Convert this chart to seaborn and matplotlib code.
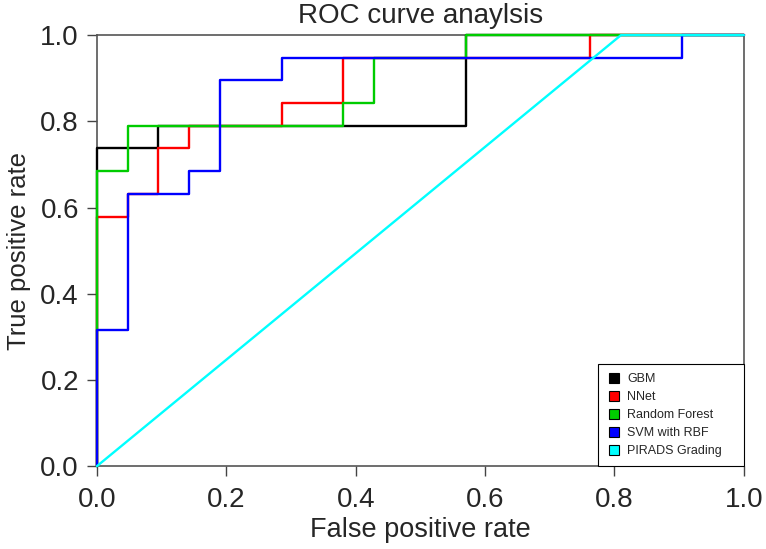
import numpy as np
import pandas as pd
import matplotlib
matplotlib.use("Agg")
import matplotlib.pyplot as plt
import seaborn as sns
from matplotlib.lines import Line2D

models = ["GBM", "NNet", "Random Forest", "SVM with RBF", "PIRADS Grading"]
colors = ["#000000", "#ff0000", "#00cc00", "#0000ff", "#00ffff"]

gbm_fpr = [0, 0, 0.095, 0.095, 0.571, 0.571, 1.0]
gbm_tpr = [0, 0.737, 0.737, 0.789, 0.789, 1.0, 1.0]

nnet_fpr = [0, 0, 0.048, 0.048, 0.095, 0.095, 0.143, 0.143, 0.286, 0.286, 0.381, 0.381, 0.762, 0.762, 1.0]
nnet_tpr = [0, 0.579, 0.579, 0.632, 0.632, 0.737, 0.737, 0.789, 0.789, 0.842, 0.842, 0.947, 0.947, 1.0, 1.0]

rf_fpr = [0, 0, 0.048, 0.048, 0.381, 0.381, 0.429, 0.429, 0.571, 0.571, 1.0]
rf_tpr = [0, 0.684, 0.684, 0.789, 0.789, 0.842, 0.842, 0.947, 0.947, 1.0, 1.0]

svm_fpr = [0, 0, 0.048, 0.048, 0.143, 0.143, 0.190, 0.190, 0.286, 0.286, 0.905, 0.905, 1.0]
svm_tpr = [0, 0.316, 0.316, 0.632, 0.632, 0.684, 0.684, 0.895, 0.895, 0.947, 0.947, 1.0, 1.0]

pirads_fpr = [0, 0.810, 1.0]
pirads_tpr = [0, 1.0, 1.0]

curves = [(gbm_fpr, gbm_tpr), (nnet_fpr, nnet_tpr), (rf_fpr, rf_tpr),
          (svm_fpr, svm_tpr), (pirads_fpr, pirads_tpr)]

rows = []
for m, (fx, ty) in zip(models, curves):
    for a, b in zip(fx, ty):
        rows.append({"model": m, "fpr": a, "tpr": b})
df = pd.DataFrame(rows)

sns.set_theme(style="white")
plt.rcParams["font.family"] = ["Liberation Sans", "DejaVu Sans"]

fig = plt.figure(figsize=(7.66, 5.49), dpi=100)
ax = fig.add_axes([0.1266, 0.151, 0.8445, 0.785])

sns.lineplot(data=df, x="fpr", y="tpr", hue="model", hue_order=models,
             palette=dict(zip(models, colors)), sort=False, estimator=None,
             linewidth=1.7, ax=ax, legend=False)
for ln in ax.lines:
    ln.set_clip_on(False)
    ln.set_zorder(3)

ax.set_xlim(0, 1)
ax.set_ylim(0, 1)
ticks = [0.0, 0.2, 0.4, 0.6, 0.8, 1.0]
ax.set_xticks(ticks)
ax.set_yticks(ticks)
ax.set_xticklabels([f"{t:.1f}" for t in ticks])
ax.set_yticklabels([f"{t:.1f}" for t in ticks])
ax.tick_params(axis="both", which="both", direction="out", length=7, width=1,
               color="#444444", labelsize=20, bottom=True, left=True)
ax.tick_params(axis="x", pad=8)
ax.tick_params(axis="y", pad=6)
for s in ax.spines.values():
    s.set_color("#555555")
    s.set_linewidth(1.2)
    s.set_zorder(2)

ax.set_xlabel("False positive rate", fontsize=19.5, labelpad=3)
ax.set_ylabel("True positive rate", fontsize=18.5, labelpad=7)
ax.set_title("ROC curve anaylsis", fontsize=20, pad=9)

handles = [Line2D([], [], linestyle="none", marker="s", markersize=6.5,
                  markerfacecolor=c, markeredgecolor="black", markeredgewidth=0.8)
           for c in colors]
leg = ax.legend(handles, models, loc="lower left", bbox_to_anchor=(0.774, 0.0, 0.226, 0.2),
                mode="expand", fontsize=9, frameon=True,
                fancybox=False, edgecolor="black", framealpha=1,
                borderaxespad=0, borderpad=0.72, handletextpad=0.5,
                labelspacing=0.48, handlelength=1.15)
leg.get_frame().set_linewidth(0.8)
leg.set_zorder(5)

fig.savefig("out.png", dpi=100)
